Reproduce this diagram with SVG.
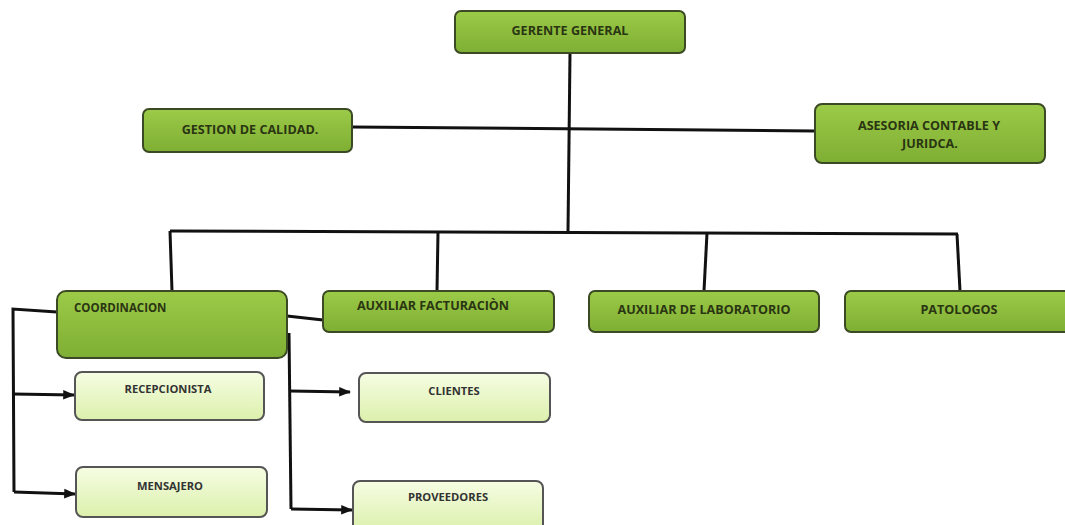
<svg xmlns="http://www.w3.org/2000/svg" width="1065" height="525" viewBox="0 0 1065 525">
<defs>
<linearGradient id="gd" x1="0" y1="0" x2="0" y2="1">
<stop offset="0" stop-color="#9cca48"/>
<stop offset="1" stop-color="#7eae33"/>
</linearGradient>
<linearGradient id="gl" x1="0" y1="0" x2="0" y2="1">
<stop offset="0" stop-color="#f6fde3"/>
<stop offset="1" stop-color="#dcf0ac"/>
</linearGradient>
<marker id="ah" viewBox="0 0 10 10" refX="9" refY="5" markerWidth="4" markerHeight="4" orient="auto" markerUnits="strokeWidth">
<path d="M0,1 L10,5 L0,9 z" fill="#111"/>
</marker>
<style>
.d{fill:url(#gd);stroke:#3b4a24;stroke-width:2}
.l{fill:url(#gl);stroke:#555;stroke-width:2}
.t{font-family:"Open Sans","Liberation Sans",sans-serif;font-weight:bold;font-size:12.6px;fill:#2a3512;text-anchor:middle}
.ts{font-family:"Open Sans","Liberation Sans",sans-serif;font-weight:bold;font-size:11.2px;fill:#333;text-anchor:middle}
.c{fill:none;stroke:#111;stroke-width:3}
.a{fill:none;stroke:#111;stroke-width:3;marker-end:url(#ah)}
</style>
</defs>
<g id="connectors">
<path class="c" d="M570,53 L568,231"/>
<path class="c" d="M352,127 L815,131"/>
<path class="c" d="M170,231 L958,234"/>
<path class="c" d="M170,231 L172,291"/>
<path class="c" d="M438,232 L437,291"/>
<path class="c" d="M707,233 L704,291"/>
<path class="c" d="M957,234 L960,291"/>
<path class="c" d="M287,316 L323,320"/>
<path class="c" d="M57,312 L13,309 L14,492"/>
<path class="a" d="M13,394 L74,395"/>
<path class="a" d="M14,492 L75,494"/>
<path class="c" d="M289,333 L291,509"/>
<path class="a" d="M290,391 L350,392"/>
<path class="a" d="M291,509 L352,510"/>
</g>
<g id="n-gerente"><rect class="d" x="455" y="11" width="230" height="42" rx="6"/><text class="t" x="570" y="35">GERENTE GENERAL</text></g>
<g id="n-gestion"><rect class="d" x="143" y="109" width="209" height="43" rx="6"/><text class="t" x="250" y="134">GESTION DE CALIDAD.</text></g>
<g id="n-asesoria"><rect class="d" x="815" y="104" width="230" height="59" rx="7"/><text class="t" x="929" y="130">ASESORIA CONTABLE Y</text><text class="t" x="930" y="148">JURIDCA.</text></g>
<g id="n-coord"><rect class="d" x="57" y="291" width="230" height="67" rx="9"/><text class="t" x="74" y="312" style="text-anchor:start;font-size:11.5px">COORDINACION</text></g>
<g id="n-factura"><rect class="d" x="323" y="291" width="231" height="41" rx="6"/><text class="t" x="433" y="310">AUXILIAR FACTURACIÒN</text></g>
<g id="n-lab"><rect class="d" x="589" y="291" width="230" height="41" rx="6"/><text class="t" x="704" y="314">AUXILIAR DE LABORATORIO</text></g>
<g id="n-pato"><rect class="d" x="845" y="291" width="228" height="41" rx="6"/><text class="t" x="959" y="314">PATOLOGOS</text></g>
<g id="n-recep"><rect class="l" x="75" y="372" width="189" height="48" rx="7"/><text class="ts" x="168" y="393">RECEPCIONISTA</text></g>
<g id="n-mens"><rect class="l" x="76" y="467" width="191" height="50" rx="7"/><text class="ts" x="170" y="490">MENSAJERO</text></g>
<g id="n-clientes"><rect class="l" x="359" y="373" width="191" height="49" rx="7"/><text class="ts" x="454" y="395">CLIENTES</text></g>
<g id="n-prov"><rect class="l" x="353" y="481" width="190" height="50" rx="7"/><text class="ts" x="448" y="501">PROVEEDORES</text></g>
</svg>
